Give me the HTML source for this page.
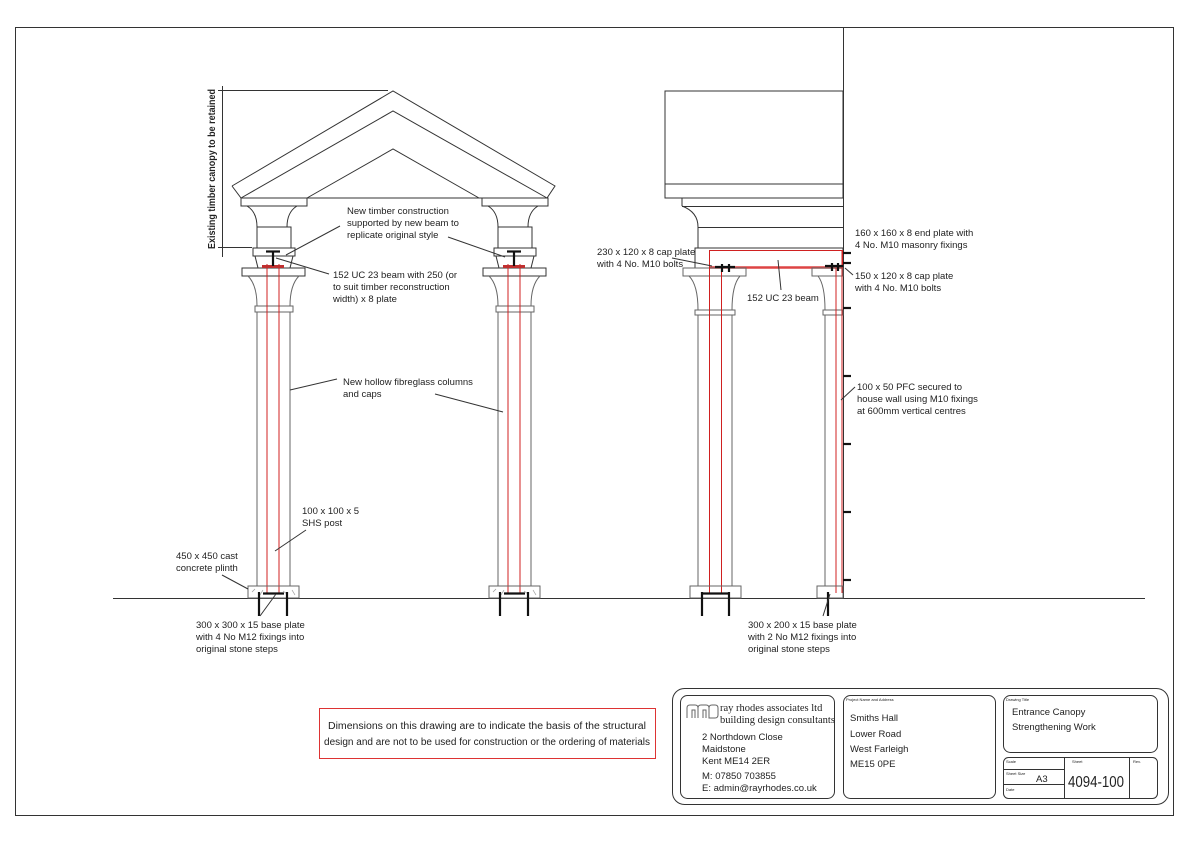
<!DOCTYPE html>
<html><head><meta charset="utf-8"><style>
html,body{margin:0;padding:0;background:#fff}
svg{display:block}
text{font-family:"Liberation Sans Narrow","Liberation Sans",sans-serif;font-size:9.5px;fill:#222}
.ln{stroke:#333;stroke-width:1;fill:none}
.g{stroke:#666;stroke-width:1;fill:none}
.r{stroke:#d02020;stroke-width:1;fill:none}
.k{stroke:#111;stroke-width:2.2}
</style></head><body>
<svg width="1191" height="842" viewBox="0 0 1191 842" xmlns="http://www.w3.org/2000/svg">
<rect x="15.5" y="27.5" width="1158" height="788" class="ln"/>
<line x1="113" y1="598.5" x2="1145" y2="598.5" class="ln"/>

<polyline class="ln" points="232,186 393,91 555,186 547,198 241,198 232,186"/>
<polyline class="ln" points="241,198 393,111 547,198"/>
<polyline class="ln" points="307,198 393,149 479,198"/>
<line x1="222.5" y1="86" x2="222.5" y2="257" class="ln"/>
<line x1="218" y1="90.5" x2="388" y2="90.5" class="ln"/>
<line x1="218" y1="247.5" x2="252" y2="247.5" class="ln"/>
<text transform="translate(215,169) rotate(-90)" text-anchor="middle" textLength="160" lengthAdjust="spacingAndGlyphs" style="font-size:10.5px;font-weight:bold">Existing  timber  canopy  to  be  retained</text>

<g id="colL">
<rect x="241" y="198" width="66" height="8" class="ln"/>
<path class="ln" d="M247,206 Q257,212 257,227 M297,206 Q287,212 287,227"/>
<rect x="257" y="227" width="34" height="21" class="ln"/>
<rect x="253" y="248" width="42" height="8" class="ln"/>
<path class="ln" d="M255,256 L258,268 M293,256 L290,268"/>
<rect x="242" y="268" width="63" height="8" class="ln"/>
<path class="g" d="M248,276 Q257,285 257,306 M299,276 Q290,285 290,306"/>
<rect x="255" y="306" width="38" height="6" class="g"/>
<line x1="257" y1="312" x2="257" y2="586" class="g"/>
<line x1="290" y1="312" x2="290" y2="586" class="g"/>
<line x1="267" y1="264" x2="267" y2="593" class="r"/>
<line x1="279" y1="264" x2="279" y2="593" class="r"/>
<rect x="262" y="265" width="22" height="3" fill="#c03030"/>
<line x1="273" y1="252" x2="273" y2="266" class="k" stroke-width="1.5"/>
<line x1="266" y1="251.5" x2="280" y2="251.5" class="k" stroke-width="1.5"/>
<rect x="248" y="586" width="51" height="12" class="g"/>
<g stroke="#999" stroke-width="0.7"><line x1="252" y1="592" x2="255" y2="589"/><line x1="260" y1="595" x2="263" y2="590"/><line x1="283" y1="591" x2="287" y2="594"/><line x1="292" y1="590" x2="295" y2="595"/></g>
<line x1="263" y1="593.5" x2="284" y2="593.5" class="k"/>
<line x1="259" y1="592" x2="259" y2="616" class="k"/>
<line x1="287" y1="592" x2="287" y2="616" class="k"/>
</g>
<use href="#colL" transform="translate(241,0)"/>

<text x="347" y="214">New timber construction</text>
<text x="347" y="226">supported by new beam to</text>
<text x="347" y="238">replicate original style</text>
<line x1="340" y1="226" x2="286" y2="255" class="ln"/>
<line x1="448" y1="237" x2="505" y2="257" class="ln"/>
<text x="333" y="278">152 UC 23 beam with 250 (or</text>
<text x="333" y="290">to suit timber reconstruction</text>
<text x="333" y="302">width) x 8 plate</text>
<line x1="329" y1="274" x2="276" y2="258" class="ln"/>
<text x="343" y="385">New hollow fibreglass columns</text>
<text x="343" y="397">and caps</text>
<line x1="337" y1="379" x2="290" y2="390" class="ln"/>
<line x1="435" y1="394" x2="503" y2="412" class="ln"/>
<text x="302" y="514">100 x 100 x 5</text>
<text x="302" y="526">SHS post</text>
<line x1="306" y1="530" x2="275" y2="551" class="ln"/>
<text x="176" y="559">450 x 450 cast</text>
<text x="176" y="571">concrete plinth</text>
<line x1="222" y1="575" x2="248" y2="589" class="ln"/>
<text x="196" y="628">300 x 300 x 15 base plate</text>
<text x="196" y="640">with 4 No M12 fixings into</text>
<text x="196" y="652">original stone steps</text>
<line x1="260" y1="616" x2="276" y2="594" class="ln"/>

<line x1="843.5" y1="27" x2="843.5" y2="598" class="ln"/>
<rect x="665" y="91" width="178" height="93" class="ln"/>
<rect x="665" y="184" width="178" height="14" class="ln"/>
<line x1="682" y1="198" x2="682" y2="206" class="ln"/>
<line x1="682" y1="206.5" x2="843" y2="206.5" class="ln"/>
<path class="ln" d="M682,206 Q698,212 698,227 L698,248"/>
<line x1="698" y1="227.5" x2="843" y2="227.5" class="ln"/>
<rect x="695" y="248" width="148" height="20" class="ln"/>
<rect x="709.5" y="250.5" width="133" height="17" class="r" stroke-width="1.5"/>
<line x1="709" y1="267.5" x2="843" y2="267.5" stroke="#d44" stroke-width="2.5"/>
<rect x="683" y="268" width="63" height="8" class="g"/>
<path class="g" d="M689,276 Q698,285 698,310 M740,276 Q732,285 732,310"/>
<rect x="695" y="310" width="40" height="5" class="g"/>
<line x1="698" y1="315" x2="698" y2="586" class="g"/>
<line x1="732" y1="315" x2="732" y2="586" class="g"/>
<line x1="709.5" y1="250" x2="709.5" y2="593" class="r"/>
<line x1="721.5" y1="268" x2="721.5" y2="593" class="r"/>
<rect x="690" y="586" width="51" height="12" class="g"/>
<line x1="702" y1="593.5" x2="728" y2="593.5" class="k"/>
<line x1="702" y1="592" x2="702" y2="616" class="k"/>
<line x1="729" y1="592" x2="729" y2="616" class="k"/>
<line x1="722" y1="264" x2="722" y2="272" class="k"/><line x1="729" y1="264" x2="729" y2="272" class="k"/>
<line x1="715" y1="267" x2="735" y2="267" class="k" stroke-width="1.5"/>
<rect x="812" y="268" width="31" height="8" class="g"/>
<path class="g" d="M818,276 Q825,285 825,310"/>
<rect x="823" y="310" width="20" height="5" class="g"/>
<line x1="825" y1="315" x2="825" y2="586" class="g"/>
<line x1="836" y1="268" x2="836" y2="593" class="r"/>
<line x1="842" y1="250" x2="842" y2="593" class="r" stroke-width="1.5"/>
<rect x="817" y="586" width="26" height="12" class="g"/>
<line x1="828" y1="592" x2="828" y2="616" class="k"/>
<line x1="825" y1="266" x2="843" y2="266" class="k" stroke-width="1.5"/>
<line x1="832" y1="263" x2="832" y2="271" class="k"/><line x1="838" y1="263" x2="838" y2="271" class="k"/>
<g class="k">
<line x1="843" y1="253" x2="851" y2="253"/><line x1="843" y1="263" x2="851" y2="263"/>
<line x1="843" y1="308" x2="851" y2="308"/><line x1="843" y1="376" x2="851" y2="376"/>
<line x1="843" y1="444" x2="851" y2="444"/><line x1="843" y1="512" x2="851" y2="512"/>
<line x1="843" y1="580" x2="851" y2="580"/>
</g>
<text x="597" y="255">230 x 120 x 8 cap plate</text>
<text x="597" y="267">with 4 No. M10 bolts</text>
<line x1="672" y1="258" x2="712" y2="266" class="ln"/>
<text x="747" y="301">152 UC 23 beam</text>
<line x1="781" y1="290" x2="778" y2="260" class="ln"/>
<text x="855" y="236">160 x 160 x 8 end plate with</text>
<text x="855" y="248">4 No. M10 masonry fixings</text>
<text x="855" y="279">150 x 120 x 8 cap plate</text>
<text x="855" y="291">with 4 No. M10 bolts</text>
<line x1="853" y1="275" x2="845" y2="268" class="ln"/>
<text x="857" y="390">100 x 50 PFC secured to</text>
<text x="857" y="402">house wall using M10 fixings</text>
<text x="857" y="414">at 600mm vertical centres</text>
<line x1="855" y1="387" x2="841" y2="400" class="ln"/>
<text x="748" y="628">300 x 200 x 15 base plate</text>
<text x="748" y="640">with 2 No M12 fixings into</text>
<text x="748" y="652">original stone steps</text>
<line x1="823" y1="616" x2="830" y2="594" class="ln"/>

<rect x="319.5" y="708.5" width="336" height="50" fill="none" stroke="#d33" stroke-width="1"/>
<text x="487" y="729" text-anchor="middle" textLength="318" lengthAdjust="spacingAndGlyphs" style="font-family:'Liberation Sans',sans-serif;font-size:10px">Dimensions on this drawing are to indicate the basis of the structural</text>
<text x="487" y="745" text-anchor="middle" textLength="326" lengthAdjust="spacingAndGlyphs" style="font-family:'Liberation Sans',sans-serif;font-size:10px">design and are not to be used for construction or the ordering of materials</text>

<rect x="672.5" y="688.5" width="496" height="116" rx="12" class="ln"/>
<rect x="680.5" y="695.5" width="154" height="103" rx="7" class="ln"/>
<rect x="843.5" y="695.5" width="152" height="103" rx="7" class="ln"/>
<rect x="1003.5" y="695.5" width="154" height="57" rx="7" class="ln"/>
<rect x="1003.5" y="757.5" width="154" height="41" rx="5" class="ln"/>
<line x1="1064.5" y1="757" x2="1064.5" y2="798" class="ln"/>
<line x1="1129.5" y1="757" x2="1129.5" y2="798" class="ln"/>
<line x1="1003" y1="769.5" x2="1064" y2="769.5" class="ln"/>
<line x1="1003" y1="784.5" x2="1064" y2="784.5" class="ln"/>
<text x="846" y="701" style="font-size:4px">Project Name and Address</text>
<text x="1006" y="701" style="font-size:4px">Drawing Title</text>
<text x="1006" y="763" style="font-size:4px">Scale</text>
<text x="1072" y="763" style="font-size:4px">Sheet</text>
<text x="1133" y="763" style="font-size:4px">Rev.</text>
<text x="1006" y="775" style="font-size:4px">Sheet Size</text>
<text x="1006" y="791" style="font-size:4px">Date</text>
<path class="g" d="M687,718 v-10 q0,-3 3,-3 h5 q3,0 3,3 v10 M692,718 v-8 h3 v8 M698,718 v-10 q0,-3 3,-3 h5 q3,0 3,3 v10 M703,718 v-8 h3 v8 M709,718 v-10 q0,-3 3,-3 h3 q3,0 3,3 v7 q0,3 -3,3 z" stroke-width="1"/>
<text x="720" y="711" style="font-family:'Liberation Serif',serif;font-size:10.5px">ray rhodes associates ltd</text>
<text x="720" y="723" style="font-family:'Liberation Serif',serif;font-size:10.5px">building design consultants</text>
<g style="font-family:'Liberation Sans',sans-serif;font-size:12px">
<text x="702" y="740">2 Northdown Close</text>
<text x="702" y="752">Maidstone</text>
<text x="702" y="764">Kent  ME14 2ER</text>
<text x="702" y="779">M: 07850 703855</text>
<text x="702" y="791">E: admin@rayrhodes.co.uk</text>
<text x="850" y="721">Smiths Hall</text>
<text x="850" y="737">Lower Road</text>
<text x="850" y="752">West Farleigh</text>
<text x="850" y="767">ME15 0PE</text>
<text x="1012" y="715">Entrance Canopy</text>
<text x="1012" y="730">Strengthening Work</text>
<text x="1036" y="782">A3</text>
<text x="1068" y="787" style="font-size:16px" textLength="56" lengthAdjust="spacingAndGlyphs">4094-100</text>
</g>
</svg>
</body></html>
